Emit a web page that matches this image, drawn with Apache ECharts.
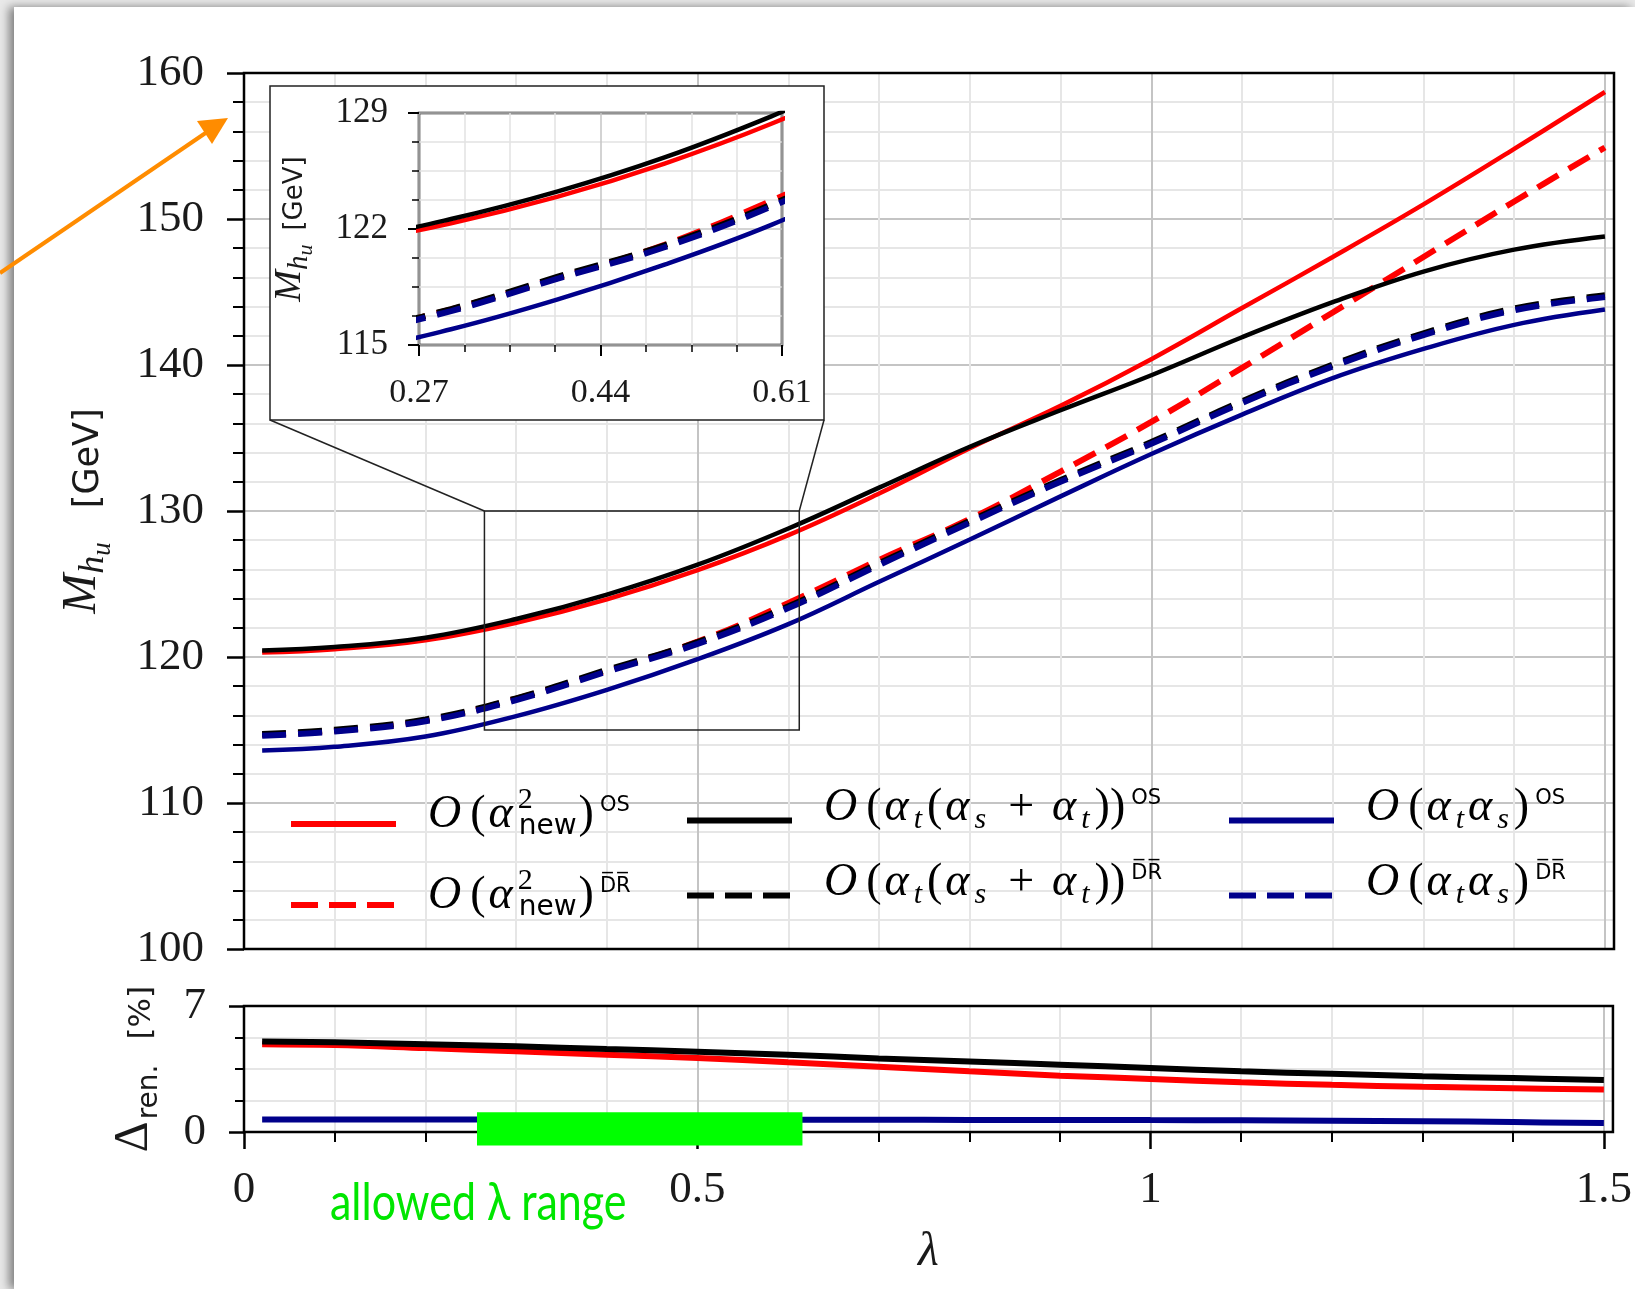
<!DOCTYPE html>
<html>
<head>
<meta charset="utf-8">
<title>M_hu vs lambda</title>
<script src="https://cdn.jsdelivr.net/npm/echarts@6/dist/echarts.min.js"></script>
<style>
  html, body { margin: 0; padding: 0; overflow: hidden; background: #e9e9e9; }
  #sheet { position: absolute; left: 14px; top: 7px; width: 1621px; height: 1282px; background: #fff; box-shadow: -5px 0 9px rgba(0, 0, 0, 0.45); }
  #chart { position: absolute; left: 0; top: 0; width: 1635px; height: 1289px; }
</style>
</head>
<body>
<div id="sheet"></div>
<div id="chart"></div>
<script>
// lambda sample points
const lambdaGrid = [0.02, 0.1, 0.2, 0.3, 0.4, 0.5, 0.6, 0.7, 0.8, 0.9, 1.0, 1.1, 1.2, 1.3, 1.4, 1.5];

// M_hu [GeV]
const massNewOS = [120.3, 120.53, 121.15, 122.35, 123.95, 125.95, 128.35, 131.2, 134.3, 137.2, 140.4, 143.9, 147.4, 151.0, 154.8, 158.7];
const massNewDR = [114.65, 114.95, 115.65, 117.15, 119.05, 121.05, 123.7, 126.65, 129.45, 132.7, 136.1, 139.8, 143.6, 147.4, 151.2, 154.9];
const massAtOS = [120.45, 120.68, 121.32, 122.6, 124.27, 126.32, 128.8, 131.6, 134.4, 136.9, 139.3, 141.9, 144.3, 146.4, 147.9, 148.8];
const massAtDR = [114.72, 115.02, 115.72, 117.17, 119.12, 121.02, 123.47, 126.42, 129.32, 132.12, 134.72, 137.52, 140.02, 142.17, 143.87, 144.77];
const massTsOS = [113.6, 113.85, 114.55, 115.95, 117.75, 119.85, 122.25, 125.15, 128.05, 131.0, 133.9, 136.6, 139.1, 141.1, 142.75, 143.8];
const massTsDR = [114.6, 114.9, 115.6, 117.05, 119.0, 120.9, 123.35, 126.3, 129.2, 132.0, 134.6, 137.4, 139.9, 142.05, 143.75, 144.65];

// Delta_ren [%]
const renNew = [4.88, 4.83, 4.66, 4.48, 4.29, 4.11, 3.87, 3.63, 3.37, 3.13, 2.95, 2.76, 2.62, 2.51, 2.43, 2.36];
const renAt = [5.03, 4.98, 4.88, 4.76, 4.61, 4.46, 4.29, 4.09, 3.92, 3.74, 3.56, 3.37, 3.23, 3.10, 3.0, 2.89];
const renTs = [0.70, 0.70, 0.70, 0.70, 0.69, 0.69, 0.68, 0.68, 0.67, 0.67, 0.66, 0.65, 0.63, 0.60, 0.55, 0.50];

// zoomed window [lambda0, lambda1, M0, M1] and inset axis origin
const zoomWindow = [0.265, 0.612, 115, 130];
const insetOrigin = [0.27, 115];
// allowed lambda range, drawn as a band on the lower panel
const allowedRange = [0.257, 0.616];
const allowedBand = [-0.75, 1.1];
const lowerTicks = [0, 0.5, 1, 1.5];

const serif = "'Liberation Serif', 'DejaVu Serif', serif";
const sans = "'DejaVu Sans', sans-serif";
const RED = '#ff0000';
const BLACK = '#000000';
const BLUE = '#00008b';
const DASH = [24, 12];

const curves = [
  { name: 'newOS', values: massNewOS, color: RED, dashed: false },
  { name: 'newDR', values: massNewDR, color: RED, dashed: true },
  { name: 'atOS', values: massAtOS, color: BLACK, dashed: false },
  { name: 'atDR', values: massAtDR, color: BLACK, dashed: true },
  { name: 'tsOS', values: massTsOS, color: BLUE, dashed: false },
  { name: 'tsDR', values: massTsDR, color: BLUE, dashed: true },
];
const ratios = [
  { name: 'renNew', values: renNew, color: RED },
  { name: 'renAt', values: renAt, color: BLACK },
  { name: 'renTs', values: renTs, color: BLUE },
];

const pairs = (ys) => lambdaGrid.map((x, i) => [x, ys[i]]);
const insetPairs = (ys) => lambdaGrid.map((x, i) => [x - insetOrigin[0], ys[i] - insetOrigin[1]]);

const legendColumns = [['newOS', 'newDR'], ['atOS', 'atDR'], ['tsOS', 'tsDR']];
const legendLeft = [288, 684, 1226];
const OS = '{os|OS}';
const DR = '{os|D\u0305R\u0305}';
const newPart = '{O|O}{p|(}{a|α}{two|2}{nw|new}{p|)}';
const atPart = '{O|O}{p|(}{a|α}{sb|t}{p|(}{a|α}{sb|s}{pl|+}{a|α}{sb|t}{p|))}';
const tsPart = '{O|O}{p|(}{a|α}{sb|t}{a|α}{sb|s}{p|)}';
const legendLabels = {
  newOS: newPart + OS,
  newDR: newPart + DR,
  atOS: atPart + OS,
  atDR: atPart + DR,
  tsOS: tsPart + OS,
  tsDR: tsPart + DR,
};
const legendRich = {
  O: { fontFamily: serif, fontStyle: 'italic', fontSize: 46, verticalAlign: 'bottom', padding: [0, 7, 25, 27] },
  p: { fontFamily: serif, fontSize: 46, verticalAlign: 'bottom', padding: [0, 2, 25, 2] },
  pl: { fontFamily: serif, fontSize: 46, verticalAlign: 'bottom', padding: [0, 17, 25, 19] },
  a: { fontFamily: serif, fontStyle: 'italic', fontSize: 46, verticalAlign: 'bottom', padding: [0, 5, 25, 1] },
  sb: { fontFamily: serif, fontStyle: 'italic', fontSize: 30, verticalAlign: 'bottom', padding: [0, 3, 21, 0] },
  nw: { fontFamily: sans, fontSize: 28, verticalAlign: 'bottom', padding: [0, 0, 22, 0] },
  two: { fontFamily: serif, fontSize: 30, width: 1, verticalAlign: 'bottom', padding: [0, 0, 48, 0] },
  os: { fontFamily: sans, fontSize: 21, verticalAlign: 'bottom', padding: [0, 0, 47, 4] },
};

const majorGrid = { show: true, lineStyle: { color: '#c4c4c4', width: 2 } };
const minorGrid = { show: true, lineStyle: { color: '#e6e6e6', width: 2 } };
const tickLabel = { fontFamily: serif, fontSize: 45, color: '#1a1a1a' };

const chart = echarts.init(document.getElementById('chart'));

const series = [];
curves.forEach((c) => {
  series.push({
    type: 'line',
    name: c.name,
    xAxisIndex: 0,
    yAxisIndex: 0,
    data: pairs(c.values),
    smooth: 0.4,
    symbol: 'none',
    color: c.color,
    lineStyle: { color: c.color, width: c.dashed ? 6 : 4.5, type: c.dashed ? DASH : 'solid' },
    z: 2,
  });
});
curves.forEach((c) => {
  series.push({
    type: 'line',
    name: c.name,
    xAxisIndex: 2,
    yAxisIndex: 2,
    data: insetPairs(c.values),
    smooth: 0.4,
    symbol: 'none',
    color: c.color,
    clip: true,
    lineStyle: { color: c.color, width: c.dashed ? 6 : 4.5, type: c.dashed ? DASH : 'solid' },
    z: 12,
  });
});
ratios.forEach((c) => {
  series.push({
    type: 'line',
    name: c.name,
    xAxisIndex: 1,
    yAxisIndex: 1,
    data: pairs(c.values),
    smooth: 0.4,
    symbol: 'none',
    color: c.color,
    lineStyle: { color: c.color, width: 6 },
    z: 2,
  });
});
// zoom window outline on the main panel
series.push({
  type: 'custom',
  xAxisIndex: 0,
  yAxisIndex: 0,
  silent: true,
  z: 3,
  data: [zoomWindow],
  renderItem(params, api) {
    const p0 = api.coord([api.value(0), api.value(3)]);
    const p1 = api.coord([api.value(1), api.value(2)]);
    return {
      type: 'rect',
      shape: { x: p0[0], y: p0[1], width: p1[0] - p0[0], height: p1[1] - p0[1] },
      style: { fill: 'none', stroke: '#222', lineWidth: 1.5 },
    };
  },
});
// allowed lambda band
series.push({
  type: 'custom',
  xAxisIndex: 1,
  yAxisIndex: 1,
  silent: true,
  clip: false,
  z: 5,
  data: [[allowedRange[0], allowedRange[1], allowedBand[0], allowedBand[1]]],
  renderItem(params, api) {
    const p0 = api.coord([api.value(0), api.value(3)]);
    const p1 = api.coord([api.value(1), api.value(2)]);
    return {
      type: 'rect',
      shape: { x: p0[0], y: p0[1], width: p1[0] - p0[0], height: p1[1] - p0[1] },
      style: { fill: '#00ff00' },
    };
  },
});

const option = {
  animation: false,
  grid: [
    { left: 244, top: 73, width: 1370, height: 876, show: true, borderColor: '#000', borderWidth: 2.5, backgroundColor: 'transparent', z: 1 },
    { left: 244, top: 1006, width: 1370, height: 126, show: true, borderColor: '#000', borderWidth: 2.5, backgroundColor: 'transparent', z: 1 },
    { left: 419, top: 113, width: 363, height: 232, show: true, borderColor: '#000', borderWidth: 2.5, backgroundColor: 'transparent', z: 11 },
  ],
  xAxis: [
    {
      type: 'value', gridIndex: 0, min: 0, max: 1.51, interval: 0.5,
      axisLine: { show: false }, axisTick: { show: false }, axisLabel: { show: false },
      minorTick: { show: false, splitNumber: 5 },
      splitLine: majorGrid, minorSplitLine: minorGrid,
    },
    {
      type: 'value', gridIndex: 1, min: 0, max: 1.51, interval: 0.5,
      axisLine: { show: false },
      axisTick: { length: 17, customValues: lowerTicks, lineStyle: { color: '#000', width: 2.5 } },
      minorTick: { show: true, splitNumber: 5, length: 10, lineStyle: { color: '#000', width: 2 } },
      axisLabel: Object.assign({ margin: 36, customValues: lowerTicks }, tickLabel),
      splitLine: majorGrid, minorSplitLine: minorGrid,
      name: 'λ', nameLocation: 'middle', nameGap: 96,
      nameTextStyle: { fontFamily: serif, fontStyle: 'italic', fontSize: 48, color: '#1a1a1a' },
    },
    {
      type: 'value', gridIndex: 2, min: 0, max: 0.34, interval: 0.17, z: 11,
      axisLine: { show: false },
      axisTick: { length: 11, lineStyle: { color: '#000', width: 2 } },
      minorTick: { show: true, splitNumber: 4, length: 7, lineStyle: { color: '#000', width: 1.5 } },
      axisLabel: { margin: 31, fontFamily: serif, fontSize: 34, color: '#1a1a1a', formatter: (v) => (v + insetOrigin[0]).toFixed(2) },
      splitLine: { show: true, lineStyle: { color: '#c4c4c4', width: 1.5 } },
      minorSplitLine: { show: true, lineStyle: { color: '#e2e2e2', width: 1.5 } },
    },
  ],
  yAxis: [
    {
      type: 'value', gridIndex: 0, min: 100, max: 160, interval: 10,
      axisLine: { show: false },
      axisTick: { length: 17, lineStyle: { color: '#000', width: 2.5 } },
      minorTick: { show: true, splitNumber: 5, length: 11, lineStyle: { color: '#000', width: 2 } },
      axisLabel: Object.assign({ margin: 40 }, tickLabel),
      splitLine: majorGrid, minorSplitLine: minorGrid,
      name: '{M|M}{h|h}{u|u}{g|[GeV]}', nameLocation: 'middle', nameGap: 124,
      nameTextStyle: {
        color: '#1a1a1a',
        rich: {
          M: { fontFamily: serif, fontStyle: 'italic', fontSize: 48, verticalAlign: 'bottom', padding: [0, 0, 14, 0] },
          h: { fontFamily: serif, fontStyle: 'italic', fontSize: 36, verticalAlign: 'bottom', padding: [0, 0, 8, 0] },
          u: { fontFamily: serif, fontStyle: 'italic', fontSize: 27, verticalAlign: 'bottom', padding: [0, 0, 4, 0] },
          g: { fontFamily: sans, fontSize: 35, verticalAlign: 'bottom', padding: [0, 0, 14, 34] },
        },
      },
    },
    {
      type: 'value', gridIndex: 1, min: 0, max: 7, interval: 7,
      axisLine: { show: false },
      axisTick: { length: 15, lineStyle: { color: '#000', width: 2.5 } },
      minorTick: { show: true, splitNumber: 4, length: 9, lineStyle: { color: '#000', width: 2 } },
      axisLabel: Object.assign({ margin: 38 }, tickLabel),
      splitLine: { show: false }, minorSplitLine: minorGrid,
      name: '{D|Δ}{r|ren.}{g|[%]}', nameLocation: 'middle', nameGap: 72,
      nameTextStyle: {
        color: '#1a1a1a',
        rich: {
          D: { fontFamily: serif, fontSize: 48, verticalAlign: 'bottom', padding: [0, 0, 14, 0] },
          r: { fontFamily: sans, fontSize: 28, verticalAlign: 'bottom', padding: [0, 0, 8, 2] },
          g: { fontFamily: sans, fontSize: 31, verticalAlign: 'bottom', padding: [0, 0, 15, 25] },
        },
      },
    },
    {
      type: 'value', gridIndex: 2, min: 0, max: 14, interval: 7, z: 11,
      axisLine: { show: false },
      axisTick: { length: 11, lineStyle: { color: '#000', width: 2 } },
      minorTick: { show: true, splitNumber: 4, length: 7, lineStyle: { color: '#000', width: 1.5 } },
      axisLabel: { margin: 31, fontFamily: serif, fontSize: 35, color: '#1a1a1a', formatter: (v) => String(v + insetOrigin[1]) },
      splitLine: { show: true, lineStyle: { color: '#c4c4c4', width: 1.5 } },
      minorSplitLine: { show: true, lineStyle: { color: '#e2e2e2', width: 1.5 } },
      name: '{M|M}{h|h}{u|u}{g|[GeV]}', nameLocation: 'middle', nameGap: 99,
      nameTextStyle: {
        color: '#1a1a1a',
        rich: {
          M: { fontFamily: serif, fontStyle: 'italic', fontSize: 38, verticalAlign: 'bottom', padding: [0, 0, 11, 0] },
          h: { fontFamily: serif, fontStyle: 'italic', fontSize: 29, verticalAlign: 'bottom', padding: [0, 0, 6, 0] },
          u: { fontFamily: serif, fontStyle: 'italic', fontSize: 22, verticalAlign: 'bottom', padding: [0, 0, 3, 0] },
          g: { fontFamily: sans, fontSize: 26, verticalAlign: 'bottom', padding: [0, 0, 12, 14] },
        },
      },
    },
  ],
  legend: legendColumns.map((names, i) => ({
    orient: 'vertical',
    left: legendLeft[i],
    top: 785,
    padding: 0,
    itemWidth: 105,
    itemHeight: 20,
    itemGap: 25,
    selectedMode: false,
    itemStyle: { opacity: 0 },
    data: names.map((n) => ({
      name: n,
      lineStyle: { width: 6, type: n.endsWith('DR') ? [27, 11] : 'solid' },
    })),
    formatter: (n) => legendLabels[n],
    textStyle: { color: '#000', rich: legendRich },
  })),
  series,
};

chart.setOption(option);

// inset frame and connector lines to the zoom window
const boxLeft = 270;
const boxTop = 86;
const boxRight = 824;
const boxBottom = 420;
const cornerL = chart.convertToPixel({ gridIndex: 0 }, [zoomWindow[0], zoomWindow[3]]);
const cornerR = chart.convertToPixel({ gridIndex: 0 }, [zoomWindow[1], zoomWindow[3]]);

chart.setOption({
  graphic: [
    {
      type: 'rect', z: 10, silent: true,
      shape: { x: boxLeft, y: boxTop, width: boxRight - boxLeft, height: boxBottom - boxTop },
      style: { fill: '#fff', stroke: '#222', lineWidth: 1.5 },
    },
    {
      type: 'line', z: 10, silent: true,
      shape: { x1: boxLeft, y1: boxBottom, x2: cornerL[0], y2: cornerL[1] },
      style: { stroke: '#222', lineWidth: 1.5 },
    },
    {
      type: 'line', z: 10, silent: true,
      shape: { x1: boxRight, y1: boxBottom, x2: cornerR[0], y2: cornerR[1] },
      style: { stroke: '#222', lineWidth: 1.5 },
    },
    {
      type: 'line', z: 20, silent: true,
      shape: { x1: 0, y1: 273, x2: 207, y2: 132 },
      style: { stroke: '#ff8c00', lineWidth: 4 },
    },
    {
      type: 'polygon', z: 20, silent: true,
      shape: { points: [[228, 118], [197, 121], [212, 144]] },
      style: { fill: '#ff8c00' },
    },
    {
      type: 'text', z: 20, silent: true, x: 330, y: 1178, scaleY: 1.2,
      style: { text: 'allowed λ range', fill: '#00e600', font: "43px Lato, 'DejaVu Sans', sans-serif" },
    },
  ],
});

window.addEventListener('resize', () => chart.resize());
</script>
</body>
</html>
